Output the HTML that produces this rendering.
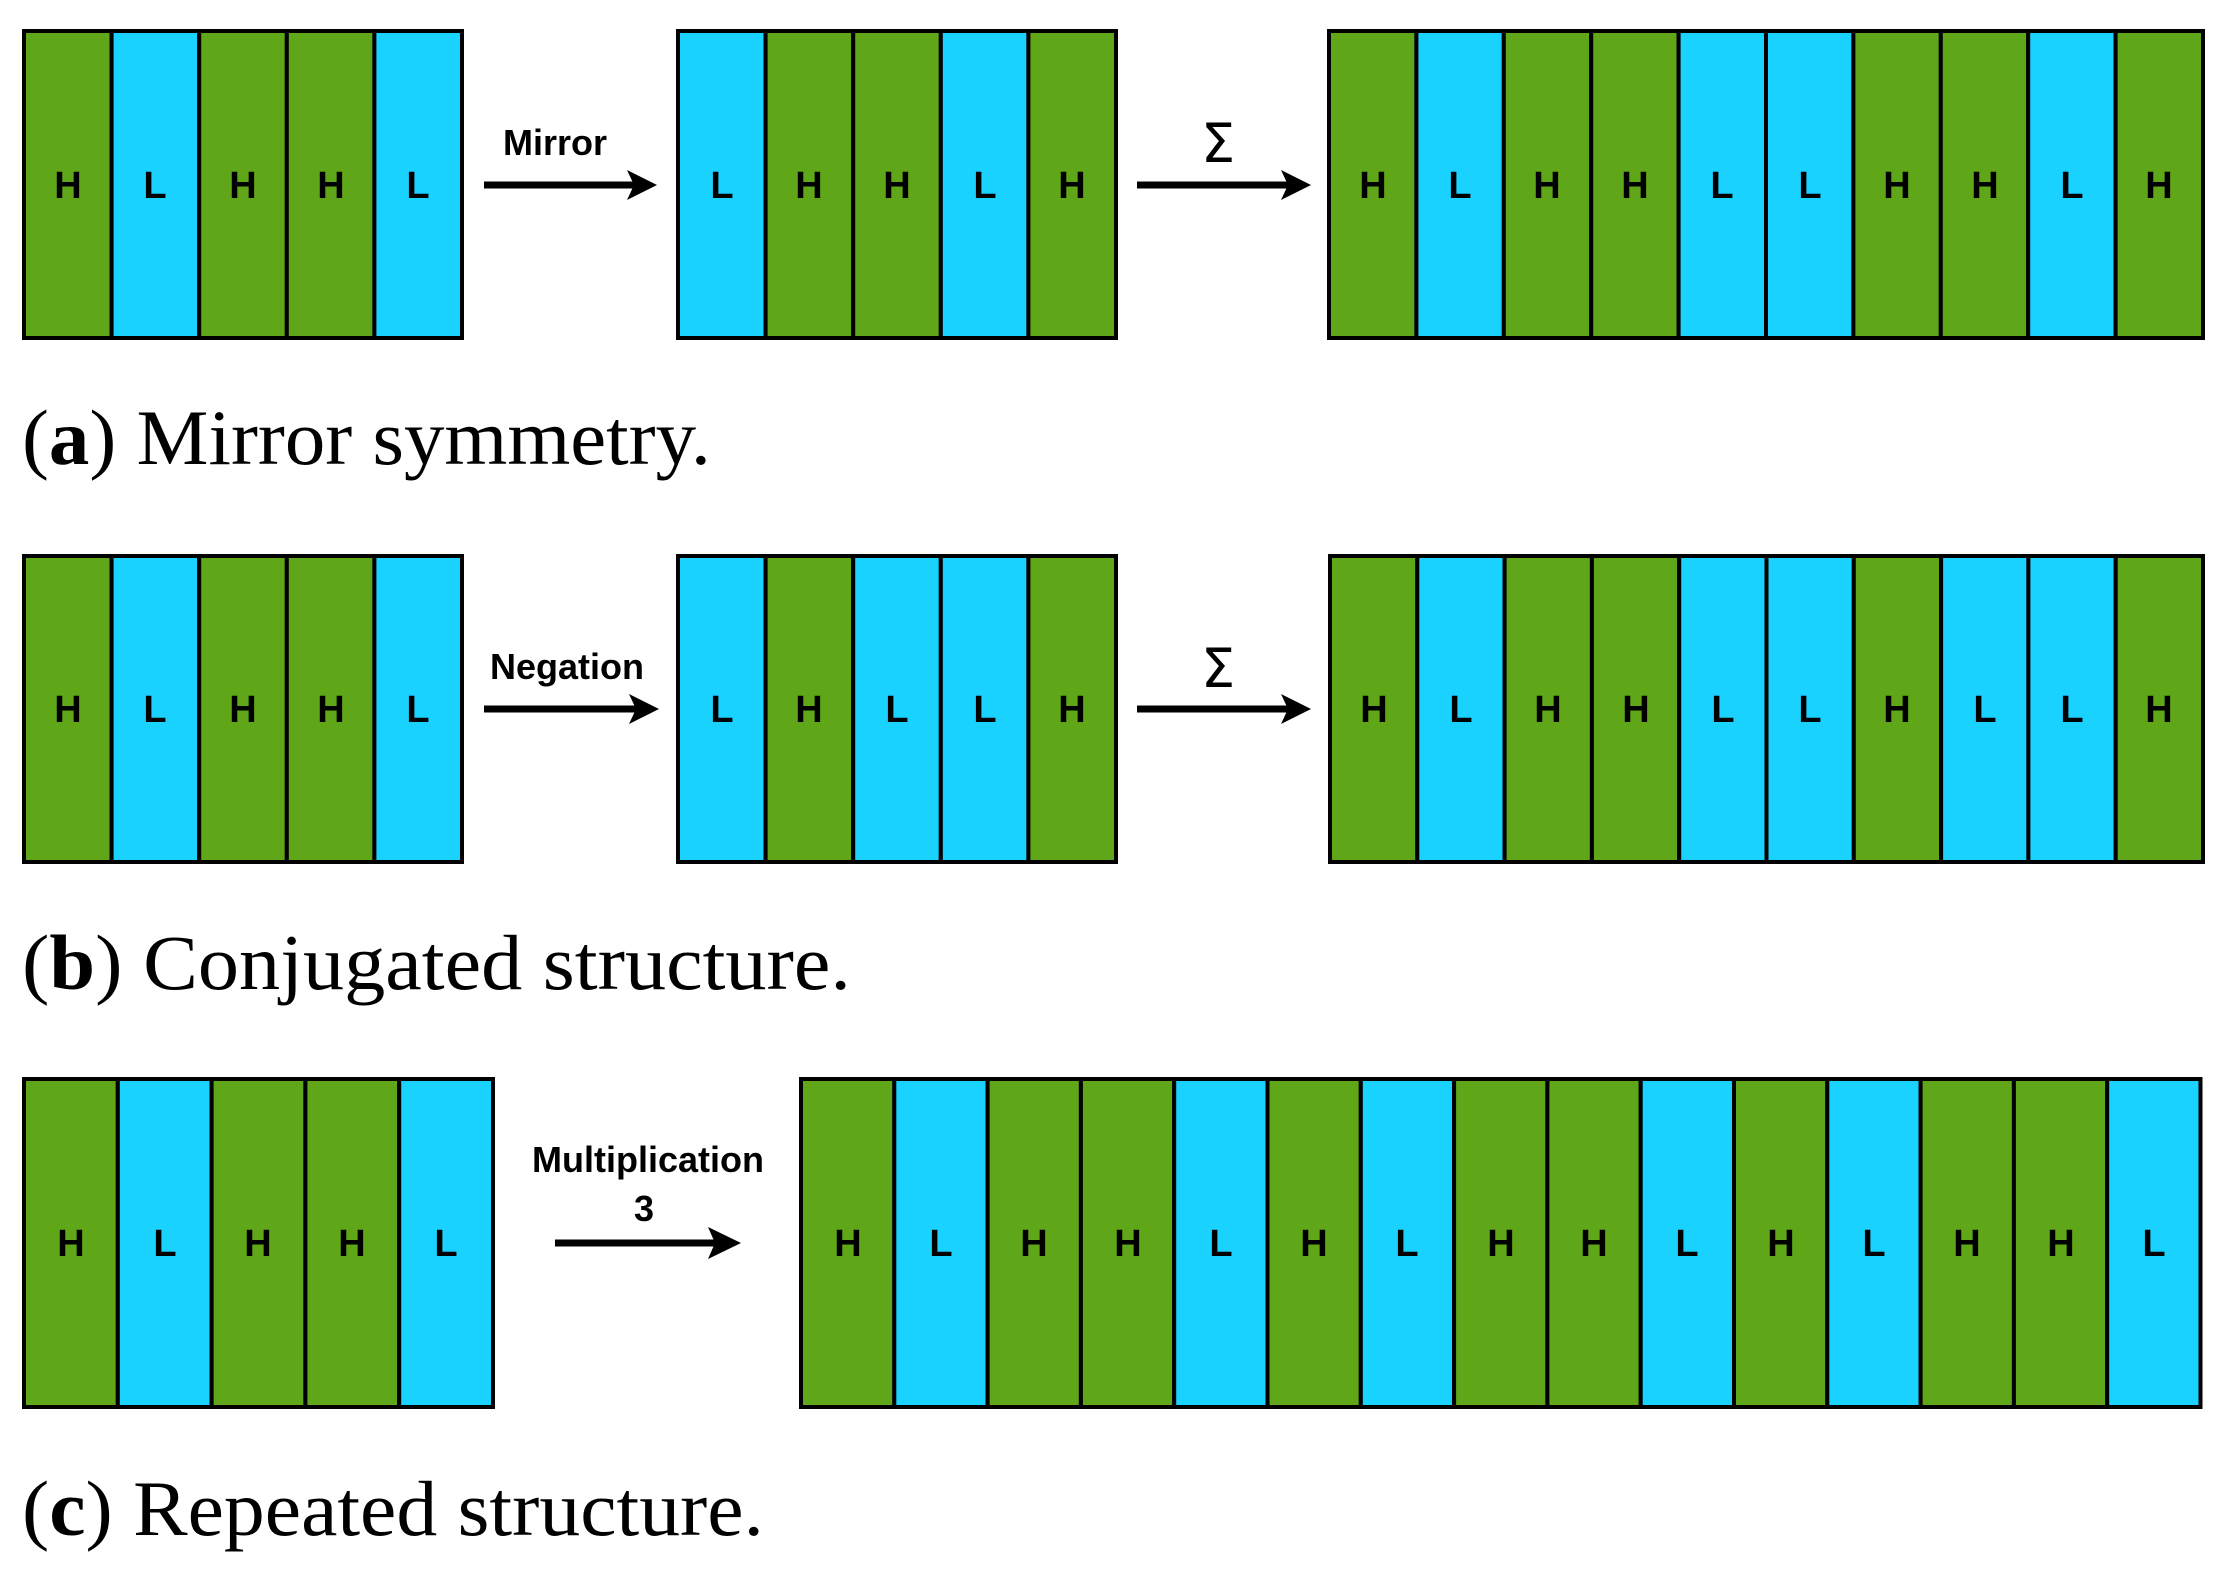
<!DOCTYPE html>
<html><head><meta charset="utf-8"><style>html,body{margin:0;padding:0;background:#fff}svg{display:block}</style></head>
<body>
<svg width="2230" height="1571" viewBox="0 0 2230 1571" xmlns="http://www.w3.org/2000/svg" font-family="Liberation Sans, sans-serif">
<script type="text/javascript"></script>
<g id="g"></g>
<!-- Row a -->
<g stroke="#000" stroke-width="4">
<!-- a1 -->
<rect x="24" y="31" width="87.6" height="307" fill="#5fa618"/>
<rect x="111.6" y="31" width="87.6" height="307" fill="#19d2ff"/>
<rect x="199.2" y="31" width="87.6" height="307" fill="#5fa618"/>
<rect x="286.8" y="31" width="87.6" height="307" fill="#5fa618"/>
<rect x="374.4" y="31" width="87.6" height="307" fill="#19d2ff"/>
<!-- a2 -->
<rect x="678" y="31" width="87.6" height="307" fill="#19d2ff"/>
<rect x="765.6" y="31" width="87.6" height="307" fill="#5fa618"/>
<rect x="853.2" y="31" width="87.6" height="307" fill="#5fa618"/>
<rect x="940.8" y="31" width="87.6" height="307" fill="#19d2ff"/>
<rect x="1028.4" y="31" width="87.6" height="307" fill="#5fa618"/>
<!-- a3 -->
<rect x="1329" y="31" width="87.4" height="307" fill="#5fa618"/>
<rect x="1416.4" y="31" width="87.4" height="307" fill="#19d2ff"/>
<rect x="1503.8" y="31" width="87.4" height="307" fill="#5fa618"/>
<rect x="1591.2" y="31" width="87.4" height="307" fill="#5fa618"/>
<rect x="1678.6" y="31" width="87.4" height="307" fill="#19d2ff"/>
<rect x="1766" y="31" width="87.4" height="307" fill="#19d2ff"/>
<rect x="1853.4" y="31" width="87.4" height="307" fill="#5fa618"/>
<rect x="1940.8" y="31" width="87.4" height="307" fill="#5fa618"/>
<rect x="2028.2" y="31" width="87.4" height="307" fill="#19d2ff"/>
<rect x="2115.6" y="31" width="87.4" height="307" fill="#5fa618"/>
<!-- b1 -->
<rect x="24" y="556" width="87.6" height="306" fill="#5fa618"/>
<rect x="111.6" y="556" width="87.6" height="306" fill="#19d2ff"/>
<rect x="199.2" y="556" width="87.6" height="306" fill="#5fa618"/>
<rect x="286.8" y="556" width="87.6" height="306" fill="#5fa618"/>
<rect x="374.4" y="556" width="87.6" height="306" fill="#19d2ff"/>
<!-- b2 -->
<rect x="678" y="556" width="87.6" height="306" fill="#19d2ff"/>
<rect x="765.6" y="556" width="87.6" height="306" fill="#5fa618"/>
<rect x="853.2" y="556" width="87.6" height="306" fill="#19d2ff"/>
<rect x="940.8" y="556" width="87.6" height="306" fill="#19d2ff"/>
<rect x="1028.4" y="556" width="87.6" height="306" fill="#5fa618"/>
<!-- b3 -->
<rect x="1330" y="556" width="87.3" height="306" fill="#5fa618"/>
<rect x="1417.3" y="556" width="87.3" height="306" fill="#19d2ff"/>
<rect x="1504.6" y="556" width="87.3" height="306" fill="#5fa618"/>
<rect x="1591.9" y="556" width="87.3" height="306" fill="#5fa618"/>
<rect x="1679.2" y="556" width="87.3" height="306" fill="#19d2ff"/>
<rect x="1766.5" y="556" width="87.3" height="306" fill="#19d2ff"/>
<rect x="1853.8" y="556" width="87.3" height="306" fill="#5fa618"/>
<rect x="1941.1" y="556" width="87.3" height="306" fill="#19d2ff"/>
<rect x="2028.4" y="556" width="87.3" height="306" fill="#19d2ff"/>
<rect x="2115.7" y="556" width="87.3" height="306" fill="#5fa618"/>
<!-- c1 -->
<rect x="24" y="1079" width="93.8" height="328" fill="#5fa618"/>
<rect x="117.8" y="1079" width="93.8" height="328" fill="#19d2ff"/>
<rect x="211.6" y="1079" width="93.8" height="328" fill="#5fa618"/>
<rect x="305.4" y="1079" width="93.8" height="328" fill="#5fa618"/>
<rect x="399.2" y="1079" width="93.8" height="328" fill="#19d2ff"/>
<!-- c2 -->
<rect x="801" y="1079" width="93.3" height="328" fill="#5fa618"/>
<rect x="894.3" y="1079" width="93.3" height="328" fill="#19d2ff"/>
<rect x="987.6" y="1079" width="93.3" height="328" fill="#5fa618"/>
<rect x="1080.9" y="1079" width="93.3" height="328" fill="#5fa618"/>
<rect x="1174.2" y="1079" width="93.3" height="328" fill="#19d2ff"/>
<rect x="1267.5" y="1079" width="93.3" height="328" fill="#5fa618"/>
<rect x="1360.8" y="1079" width="93.3" height="328" fill="#19d2ff"/>
<rect x="1454.1" y="1079" width="93.3" height="328" fill="#5fa618"/>
<rect x="1547.4" y="1079" width="93.3" height="328" fill="#5fa618"/>
<rect x="1640.7" y="1079" width="93.3" height="328" fill="#19d2ff"/>
<rect x="1734" y="1079" width="93.3" height="328" fill="#5fa618"/>
<rect x="1827.3" y="1079" width="93.3" height="328" fill="#19d2ff"/>
<rect x="1920.6" y="1079" width="93.3" height="328" fill="#5fa618"/>
<rect x="2013.9" y="1079" width="93.3" height="328" fill="#5fa618"/>
<rect x="2107.2" y="1079" width="93.3" height="328" fill="#19d2ff"/>
</g>
<g font-size="38" font-weight="bold" text-anchor="middle" fill="#000">
<text x="68" y="198">H</text><text x="155" y="198">L</text><text x="243" y="198">H</text><text x="331" y="198">H</text><text x="418" y="198">L</text>
<text x="722" y="198">L</text><text x="809" y="198">H</text><text x="897" y="198">H</text><text x="985" y="198">L</text><text x="1072" y="198">H</text>
<text x="1373" y="198">H</text><text x="1460" y="198">L</text><text x="1547" y="198">H</text><text x="1635" y="198">H</text><text x="1722" y="198">L</text><text x="1810" y="198">L</text><text x="1897" y="198">H</text><text x="1985" y="198">H</text><text x="2072" y="198">L</text><text x="2159" y="198">H</text>
<text x="68" y="722">H</text><text x="155" y="722">L</text><text x="243" y="722">H</text><text x="331" y="722">H</text><text x="418" y="722">L</text>
<text x="722" y="722">L</text><text x="809" y="722">H</text><text x="897" y="722">L</text><text x="985" y="722">L</text><text x="1072" y="722">H</text>
<text x="1374" y="722">H</text><text x="1461" y="722">L</text><text x="1548" y="722">H</text><text x="1636" y="722">H</text><text x="1723" y="722">L</text><text x="1810" y="722">L</text><text x="1897" y="722">H</text><text x="1985" y="722">L</text><text x="2072" y="722">L</text><text x="2159" y="722">H</text>
<text x="71" y="1256">H</text><text x="165" y="1256">L</text><text x="258" y="1256">H</text><text x="352" y="1256">H</text><text x="446" y="1256">L</text>
<text x="848" y="1256">H</text><text x="941" y="1256">L</text><text x="1034" y="1256">H</text><text x="1128" y="1256">H</text><text x="1221" y="1256">L</text><text x="1314" y="1256">H</text><text x="1407" y="1256">L</text><text x="1501" y="1256">H</text><text x="1594" y="1256">H</text><text x="1687" y="1256">L</text><text x="1781" y="1256">H</text><text x="1874" y="1256">L</text><text x="1967" y="1256">H</text><text x="2061" y="1256">H</text><text x="2154" y="1256">L</text>
</g>
<!-- arrows -->
<g fill="#000" stroke="#000" stroke-width="7">
<line x1="484" y1="185" x2="640" y2="185"/>
<line x1="1137" y1="185" x2="1295" y2="185"/>
<line x1="484" y1="709" x2="642" y2="709"/>
<line x1="1137" y1="709" x2="1295" y2="709"/>
<line x1="555" y1="1243" x2="722" y2="1243"/>
</g>
<g fill="#000">
<polygon points="627,170 657,185 627,200 634,185"/>
<polygon points="1281,170 1311,185 1281,200 1288,185"/>
<polygon points="629,694 659,709 629,724 636,709"/>
<polygon points="1281,694 1311,709 1281,724 1288,709"/>
<polygon points="708,1227 741,1243 708,1259 715,1243"/>
</g>
<g font-weight="bold" font-size="36" text-anchor="middle" fill="#000">
<text x="555" y="155">Mirror</text>
<text x="567" y="679">Negation</text>
<text x="648" y="1172">Multiplication</text>
<text x="644" y="1221">3</text>
</g>
<g font-family="DejaVu Sans, sans-serif" font-size="54" text-anchor="middle" fill="#000">
<text x="1218" y="162">Σ</text>
<text x="1218" y="687">Σ</text>
</g>
<g font-family="Liberation Serif, serif" font-size="78" fill="#000">
<text x="22" y="464" textLength="689" lengthAdjust="spacingAndGlyphs">(<tspan font-weight="bold">a</tspan>) Mirror symmetry.</text>
<text x="22" y="989" textLength="829" lengthAdjust="spacingAndGlyphs">(<tspan font-weight="bold">b</tspan>) Conjugated structure.</text>
<text x="22" y="1535" textLength="742" lengthAdjust="spacingAndGlyphs">(<tspan font-weight="bold">c</tspan>) Repeated structure.</text>
</g>
</svg>
</body></html>
